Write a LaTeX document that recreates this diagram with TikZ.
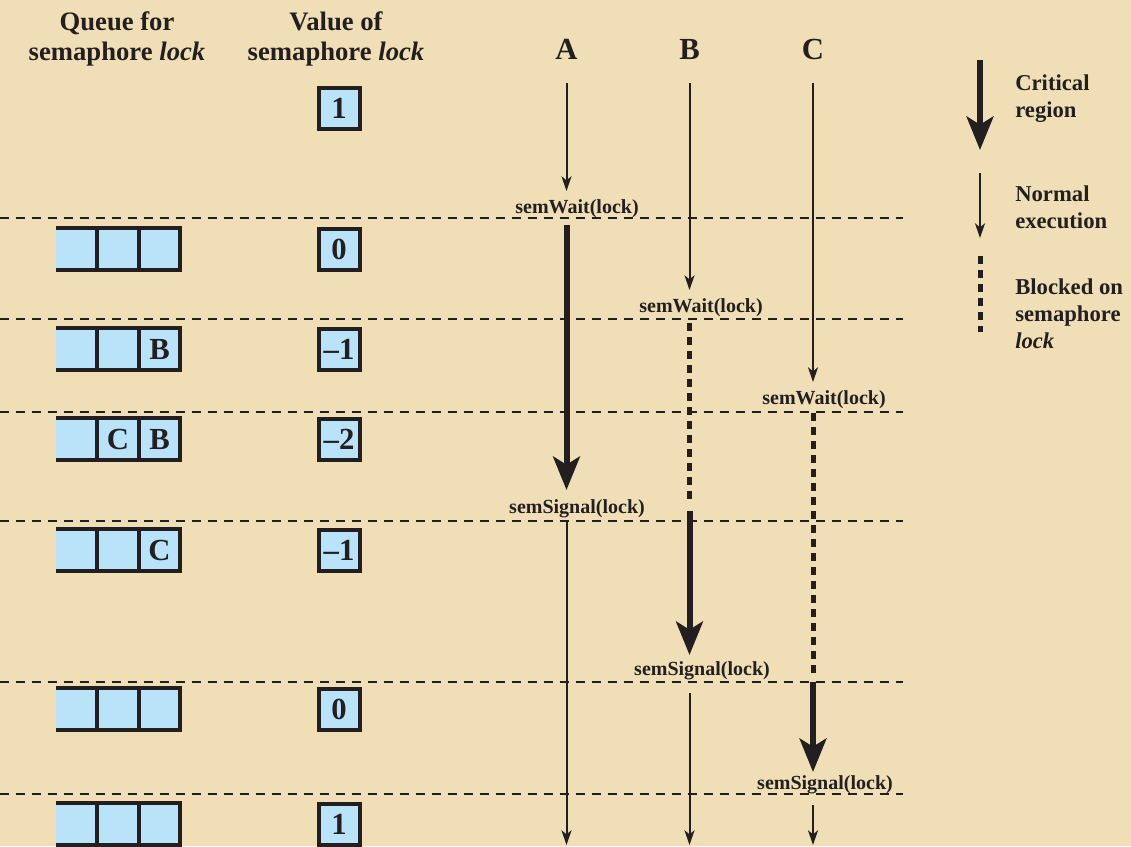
\documentclass[tikz,border=0pt]{standalone}
\usepackage{fontspec}
\setmainfont{Liberation Serif}
\usetikzlibrary{arrows.meta}

\definecolor{parch}{RGB}{240,222,182}
\definecolor{qblue}{RGB}{184,227,248}
\definecolor{ink}{RGB}{35,31,32}

\tikzset{
  valbox/.style={draw=ink, fill=qblue, line width=3pt, minimum size=30.75pt, inner sep=0pt, text=ink, font=\fontsize{23}{23}\selectfont\bfseries},
  qcell/.style={fill=qblue, minimum size=30.75pt, inner sep=0pt, text=ink, font=\fontsize{23}{23}\selectfont\bfseries},
  qline/.style={draw=ink, line width=3pt},
  sep/.style={draw=ink, line width=1.8pt, dash pattern=on 6.75pt off 5.25pt},
  crit/.style={draw=ink, line width=4.5pt, -{Stealth[length=25pt,width=20pt,inset=6pt]}},
  norm/.style={draw=ink, line width=1.5pt, -{Stealth[length=11pt,width=7.5pt,inset=3pt]}},
  blocked/.style={draw=ink, line width=3.75pt, dash pattern=on 6pt off 4.5pt},
  lbl/.style={font=\fontsize{15}{17}\selectfont\bfseries, inner sep=0pt, text=ink, anchor=base},
  hdr/.style={font=\fontsize{20}{22.5}\selectfont\bfseries, inner sep=0pt, align=center, text=ink, anchor=north},
  proc/.style={font=\fontsize{23}{23}\selectfont\bfseries, inner sep=0pt, text=ink, anchor=base},
  legend/.style={font=\fontsize{17}{20}\selectfont\bfseries, inner sep=0pt, align=left, text=ink, anchor=north west}
}

\begin{document}
\begin{tikzpicture}[x=0.75pt,y=0.75pt,yscale=-1]
\useasboundingbox (0,0) rectangle (1131,846);
\fill[parch] (0,0) rectangle (1131,846);

% Column heads
\node[hdr] (qhead) at (117,11) {Queue for\\semaphore \textit{lock}};
\node[hdr] (vhead) at (336,11) {Value of\\semaphore \textit{lock}};
\node[proc] (pA) at (566.5,59) {A};
\node[proc] (pB) at (689.5,59) {B};
\node[proc] (pC) at (813,59) {C};

%Dashed separators
\draw[sep] (0,218) -- (903,218);
\draw[sep] (0,319) -- (903,319);
\draw[sep] (0,412) -- (903,412);
\draw[sep] (0,521) -- (903,521);
\draw[sep] (0,682) -- (903,682);
\draw[sep] (0,794) -- (903,794);

% Process A
\coordinate (a0) at (566.5,83);
\coordinate (a1) at (566.5,191);
\coordinate (a2) at (566.5,225);
\coordinate (a3) at (566.5,490);
\coordinate (a4) at (566.5,522);
\coordinate (a5) at (566.5,845);
\draw[norm] (a0) -- (a1);
\draw[crit] (a2) -- (a3);
\draw[norm] (a4) -- (a5);

% Process B
\coordinate (b0) at (689.5,83);
\coordinate (b1) at (689.5,290);
\coordinate (b2) at (689.5,323);
\coordinate (b3) at (689.5,503);
\coordinate (b4) at (689.5,511);
\coordinate (b5) at (689.5,655);
\coordinate (b6) at (689.5,693);
\coordinate (b7) at (689.5,845);
\draw[norm] (b0) -- (b1);
\draw[blocked] (b2) -- (b3);
\draw[crit] (b4) -- (b5);
\draw[norm] (b6) -- (b7);

% Process C
\coordinate (c0) at (813,83);
\coordinate (c1) at (813,382);
\coordinate (c2) at (813,413);
\coordinate (c3) at (813,676);
\coordinate (c4) at (813,682);
\coordinate (c5) at (813,772);
\coordinate (c6) at (813,805);
\coordinate (c7) at (813,845);
\draw[norm] (c0) -- (c1);
\draw[blocked] (c2) -- (c3);
\draw[crit] (c4) -- (c5);
\draw[norm] (c6) -- (c7);

% Text Node
\node[lbl] (wA) at (577,213) {semWait(lock)};
\node[lbl] (wB) at (701,312) {semWait(lock)};
\node[lbl] (wC) at (824,404) {semWait(lock)};
\node[lbl] (sA) at (577,513) {semSignal(lock)};
\node[lbl] (sB) at (702,675) {semSignal(lock)};
\node[lbl] (sC) at (825,789) {semSignal(lock)};

% Value of semaphore
\node[valbox] (v1) at (339,108) {1};
\node[valbox] (v2) at (339,249) {0};
\node[valbox] (v3) at (339,349) {\textendash1};
\node[valbox] (v4) at (339,439) {\textendash2};
\node[valbox] (v5) at (339,550) {\textendash1};
\node[valbox] (v6) at (339,709) {0};
\node[valbox] (v7) at (339,824) {1};

% Queue rows
\node[qcell] (q2a) at (76.5,249) {};
\node[qcell] (q2b) at (118,249) {};
\node[qcell] (q2c) at (159.5,249) {};
\draw[qline] (q2a.north west) -- (q2c.north east) -- (q2c.south east) -- (q2a.south west);
\draw[qline] (q2b.north west) -- (q2b.south west) (q2b.north east) -- (q2b.south east);

\node[qcell] (q3a) at (76.5,349) {};
\node[qcell] (q3b) at (118,349) {};
\node[qcell] (q3c) at (159.5,349) {B};
\draw[qline] (q3a.north west) -- (q3c.north east) -- (q3c.south east) -- (q3a.south west);
\draw[qline] (q3b.north west) -- (q3b.south west) (q3b.north east) -- (q3b.south east);

\node[qcell] (q4a) at (76.5,439) {};
\node[qcell] (q4b) at (118,439) {C};
\node[qcell] (q4c) at (159.5,439) {B};
\draw[qline] (q4a.north west) -- (q4c.north east) -- (q4c.south east) -- (q4a.south west);
\draw[qline] (q4b.north west) -- (q4b.south west) (q4b.north east) -- (q4b.south east);

\node[qcell] (q5a) at (76.5,550) {};
\node[qcell] (q5b) at (118,550) {};
\node[qcell] (q5c) at (159.5,550) {C};
\draw[qline] (q5a.north west) -- (q5c.north east) -- (q5c.south east) -- (q5a.south west);
\draw[qline] (q5b.north west) -- (q5b.south west) (q5b.north east) -- (q5b.south east);

\node[qcell] (q6a) at (76.5,709) {};
\node[qcell] (q6b) at (118,709) {};
\node[qcell] (q6c) at (159.5,709) {};
\draw[qline] (q6a.north west) -- (q6c.north east) -- (q6c.south east) -- (q6a.south west);
\draw[qline] (q6b.north west) -- (q6b.south west) (q6b.north east) -- (q6b.south east);

\node[qcell] (q7a) at (76.5,824) {};
\node[qcell] (q7b) at (118,824) {};
\node[qcell] (q7c) at (159.5,824) {};
\draw[qline] (q7a.north west) -- (q7c.north east) -- (q7c.south east) -- (q7a.south west);
\draw[qline] (q7b.north west) -- (q7b.south west) (q7b.north east) -- (q7b.south east);

% Legend
\coordinate (l0) at (980,60);
\coordinate (l1) at (980,150);
\coordinate (l2) at (980,173);
\coordinate (l3) at (980,238);
\coordinate (l4) at (980,256);
\coordinate (l5) at (980,332);
\draw[crit] (l0) -- (l1);
\draw[norm] (l2) -- (l3);
\draw[blocked] (l4) -- (l5);
\node[legend] (lcrit) at (1015,75) {Critical\\region};
\node[legend] (lnorm) at (1015,186) {Normal\\execution};
\node[legend] (lblk) at (1015,279) {Blocked on\\semaphore\\\textit{lock}};

\end{tikzpicture}
\end{document}
